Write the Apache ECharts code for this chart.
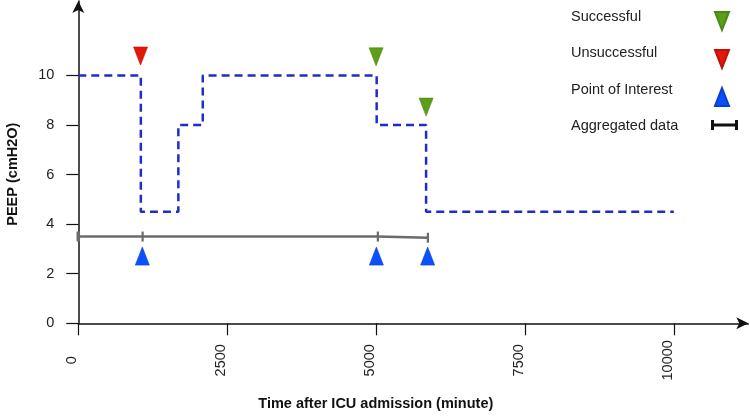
<!DOCTYPE html>
<html>
<head>
<meta charset="utf-8">
<script src="https://cdn.jsdelivr.net/npm/echarts@6/dist/echarts.min.js"></script>
<style>html,body{margin:0;padding:0;background:#fff}#c{width:750px;height:420px}</style>
</head>
<body>
<div id="c"></div>
<script>
// ---- data ----
var xTicks = [0, 2500, 5000, 7500, 10000];
var yTicks = [0, 2, 4, 6, 8, 10];
var peepSteps = [[0, 10], [1050, 4.5], [1680, 8], [2090, 10], [5010, 8], [5840, 4.5], [10000, 4.5]];
var aggregated = [[0, 3.5], [1080, 3.5], [5030, 3.5], [5870, 3.45]];
var successful = [[5000, 10.75], [5840, 8.72]];
var unsuccessful = [[1045, 10.78]];
var pointOfInterest = [[1075, 2.71], [5005, 2.71], [5866, 2.71]];
var legendNames = ['Successful', 'Unsuccessful', 'Point of Interest', 'Aggregated data'];
var xTitle = 'Time after ICU admission (minute)';
var yTitle = 'PEEP (cmH2O)';

var FONT = '"Liberation Sans", Arial, Helvetica, sans-serif';
var DOWN = 'path://M0,0 L14,0 L7,18 Z';
var UP = 'path://M7,0 L14,18 L0,18 Z';
var HBAR = 'path://M0,0 L3,0 L3,3.5 L24,3.5 L24,0 L27,0 L27,10 L24,10 L24,6.5 L3,6.5 L3,10 L0,10 Z';
var GREEN = '#5c9e1a', RED = '#e3170a', BLUE = '#0a50ff', GRAY = '#6b6b6b';

var chart = echarts.init(document.getElementById('c'), null, {renderer: 'canvas'});
chart.setOption({
  animation: false,
  backgroundColor: '#ffffff',
  textStyle: {fontFamily: FONT},
  grid: {left: 78.3, right: 1.7, top: 1, bottom: 96.7, containLabel: false, outerBoundsMode: 'none'},
  xAxis: {
    type: 'value', min: 0, max: 11250,
    name: xTitle, nameLocation: 'middle', nameGap: 73,
    nameTextStyle: {fontFamily: FONT, fontWeight: 'bold', fontSize: 14.5, color: '#111', padding: [0, 75, 0, 0]},
    axisLine: {show: true, lineStyle: {color: '#111', width: 1.5}, symbol: ['none', 'arrow'], symbolSize: [9, 12], symbolOffset: [0, 0]},
    axisTick: {show: true, length: 12, lineStyle: {color: '#111', width: 1.2}, customValues: xTicks},
    axisLabel: {customValues: xTicks, rotate: 90, align: 'center', verticalAlign: 'bottom', lineHeight: 12, margin: 37,
      formatter: function (v) { return String(v); },
      fontFamily: FONT, fontSize: 14.5, color: '#222'},
    splitLine: {show: false}
  },
  yAxis: {
    type: 'value', min: 0, max: 13,
    name: yTitle, nameLocation: 'middle', nameGap: 58, nameRotate: 90,
    nameTextStyle: {fontFamily: FONT, fontWeight: 'bold', fontSize: 14.5, color: '#111', padding: [0, 24, 0, 0]},
    axisLine: {show: true, lineStyle: {color: '#111', width: 1.5}, symbol: ['none', 'arrow'], symbolSize: [9, 12], symbolOffset: [0, 0]},
    axisTick: {show: true, length: 12, lineStyle: {color: '#111', width: 1.2}, customValues: yTicks},
    axisLabel: {customValues: yTicks, margin: 24, formatter: function (v) { return String(v); },
      fontFamily: FONT, fontSize: 14.5, color: '#222'},
    splitLine: {show: false}
  },
  legend: [
    {
      data: legendNames, orient: 'vertical', left: 566, top: 8, padding: 0, itemWidth: 0, itemHeight: 18, itemGap: 19.8,
      icon: 'none', selectedMode: false,
      textStyle: {fontFamily: FONT, fontSize: 14.5, color: '#222'}
    },
    {
      data: [
        {name: 'Successful', icon: DOWN},
        {name: 'Unsuccessful', icon: DOWN},
        {name: 'Point of Interest', icon: UP}
      ],
      orient: 'vertical', left: 714, top: 11, padding: 0, itemWidth: 14, itemHeight: 18, itemGap: 18,
      selectedMode: false, formatter: function () { return ''; },
      textStyle: {fontSize: 1, color: 'rgba(0,0,0,0)'}
    },
    {
      data: [{name: 'Aggregated data', icon: HBAR, itemStyle: {color: '#111'}}],
      orient: 'vertical', left: 711, top: 120, padding: 0, itemWidth: 27, itemHeight: 10,
      selectedMode: false, formatter: function () { return ''; },
      textStyle: {fontSize: 1, color: 'rgba(0,0,0,0)'}
    }
  ],
  series: [
    {
      name: 'PEEP', type: 'line', step: 'end', data: peepSteps, showSymbol: false, symbol: 'none',
      lineStyle: {color: '#1d2ec8', width: 2.5, type: [8, 5]}, itemStyle: {color: '#1d2ec8'}, z: 2
    },
    {
      name: 'Aggregated data', type: 'line', data: aggregated,
      symbol: 'rect', showSymbol: true,
      symbolSize: function (v, p) { return p.dataIndex === 0 ? [3.5, 10] : [2.2, 10]; },
      lineStyle: {color: GRAY, width: 2.5}, itemStyle: {color: GRAY}, z: 2
    },
    {
      name: 'Successful', type: 'scatter', data: successful, symbol: DOWN, symbolSize: [14, 18],
      symbolKeepAspect: false,
      itemStyle: {color: GREEN, opacity: 1, borderColor: '#4a8a14', borderWidth: 0.6}, z: 3
    },
    {
      name: 'Unsuccessful', type: 'scatter', data: unsuccessful, symbol: DOWN, symbolSize: [14, 18],
      symbolKeepAspect: false,
      itemStyle: {color: RED, opacity: 1, borderColor: '#c01008', borderWidth: 0.6}, z: 3
    },
    {
      name: 'Point of Interest', type: 'scatter', data: pointOfInterest, symbol: UP, symbolSize: [14, 18],
      symbolKeepAspect: false,
      itemStyle: {color: BLUE, opacity: 1, borderColor: '#0a3fd0', borderWidth: 0.6}, z: 3
    }
  ]
});
</script>
</body>
</html>
